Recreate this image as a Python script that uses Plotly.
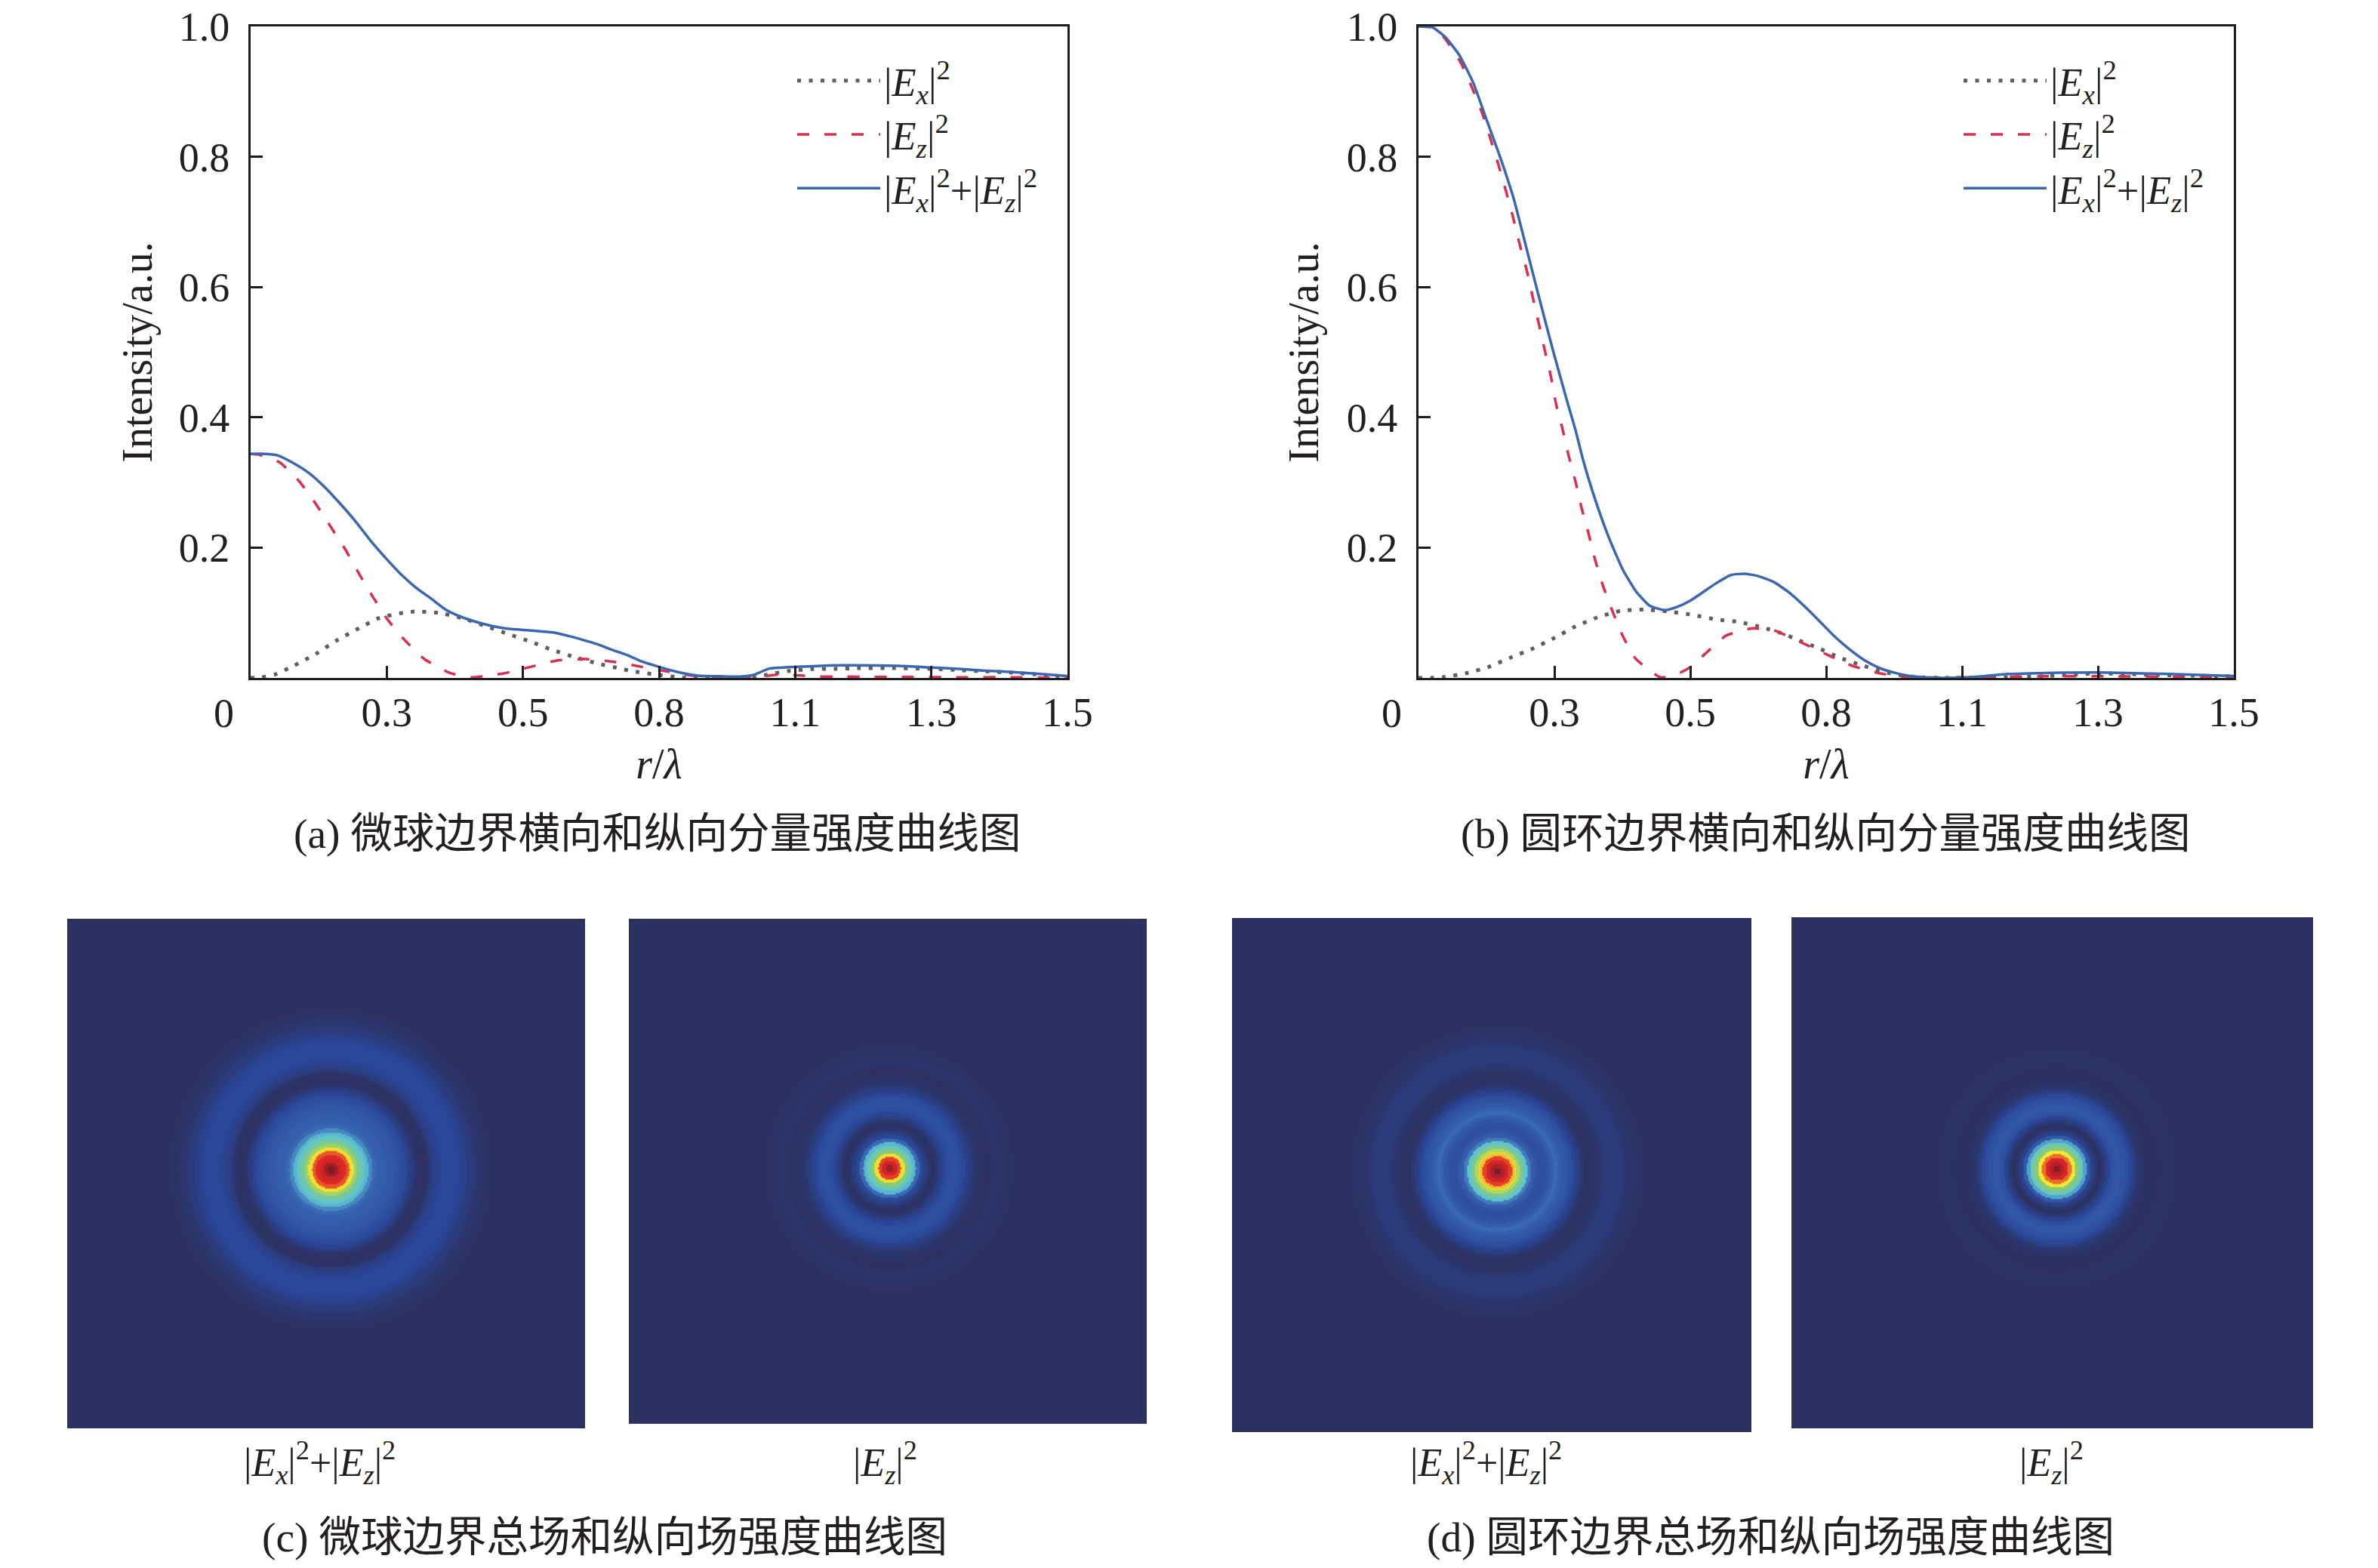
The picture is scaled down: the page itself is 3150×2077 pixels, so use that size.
import numpy as np
import plotly.graph_objects as go

W = 3150
H = 2077
SERIF = "Liberation Serif, Noto Sans CJK SC"

# panel (a) curves
ax_total_x = [0, .025, .048, .078, .108, .136, .164, .192, .219, .247, .275, .303, .331, .358, .386, .414, .442, .469, .497, .525, .553, .581, .608, .636, .664, .692, .719, .75, .785, .821, .8625, .9, .925, .951, 1.002, 1.0625, 1.108, 1.19, 1.25, 1.3, 1.35, 1.4, 1.45, 1.5]
ax_total_y = [.344, .344, .342, .33, .314, .293, .268, .241, .212, .185, .16, .139, .122, .105, .094, .086, .08, .076, .074, .072, .07, .065, .059, .052, .043, .035, .025, .017, .009, .0035, .0025, .002, .005, .014, .017, .019, .0195, .0185, .016, .014, .011, .009, .006, .003]
ax_ez_x = [0, .014, .053, .09, .119, .147, .174, .199, .224, .251, .282, .319, .365, .404, .465, .514, .564, .615, .664, .715, .764, .8125, .87, .93, .965, 1.015, 1.04, 1.087, 1.136, 1.19, 1.3, 1.4, 1.5]
ax_ez_y = [.344, .343, .331, .301, .268, .232, .197, .16, .125, .09, .059, .029, .008, .001, .007, .017, .027, .029, .025, .0175, .01, .0035, .001, .001, .005, .0035, .002, .002, .0015, .0015, .001, .001, 0]
ax_ex_x = [0, .02, .044, .08, .12, .157, .196, .236, .28, .301, .345, .388, .43, .471, .513, .554, .595, .638, .681, .703, .746, .794, .85, .898, .949, .986, 1.029, 1.073, 1.117, 1.183, 1.25, 1.3, 1.35, 1.4, 1.45, 1.5]
ax_ex_y = [0, .001, .005, .019, .037, .057, .075, .092, .1, .102, .1, .092, .08, .068, .056, .043, .032, .022, .014, .01, .005, .0005, 0, .0005, .005, .0105, .0135, .014, .015, .015, .014, .012, .01, .008, .005, .002]

# panel (b) curves
bx_total_x = [0, .025, .05, .075, .101, .126, .15, .175, .2, .224, .247, .272, .289, .303, .321, .349, .376, .4, .425, .453, .476, .501, .547, .575, .601, .626, .654, .682, .71, .738, .765, .793, .821, .849, .876, .904, .932, .96, 1.001, 1.043, 1.085, 1.126, 1.182, 1.25, 1.38, 1.5]
bx_total_y = [1.0, .999, .983, .956, .913, .855, .8, .736, .655, .577, .504, .429, .38, .334, .284, .218, .166, .133, .111, .104, .109, .119, .145, .158, .16, .156, .147, .131, .11, .087, .064, .044, .027, .015, .008, .003, .001, 0, .0005, .003, .006, .007, .008, .0085, .006, .003]
bx_ez_x = [0, .025, .047, .078, .099, .117, .133, .147, .161, .174, .186, .199, .21, .221, .232, .243, .254, .265, .276, .289, .3, .313, .325, .34, .357, .376, .4, .442, .453, .481, .501, .526, .566, .613, .654, .672, .708, .754, .8, .849, .9, 1.026, 1.145, 1.263, 1.38, 1.5]
bx_ez_y = [1.0, .998, .983, .944, .905, .867, .826, .788, .747, .707, .666, .626, .585, .545, .504, .465, .417, .382, .342, .301, .261, .221, .181, .14, .102, .064, .029, .002, .001, .008, .017, .036, .065, .076, .073, .067, .053, .035, .018, .007, .001, .001, .0025, .0025, .002, .001]
bx_ex_x = [0, .022, .044, .087, .129, .169, .21, .249, .289, .329, .372, .415, .458, .503, .546, .589, .631, .674, .693, .735, .775, .817, .858, .88, .92, 1.0, 1.085, 1.16, 1.25, 1.38, 1.5]
bx_ex_y = [0, 0, .001, .007, .017, .031, .045, .061, .079, .093, .103, .105, .102, .097, .09, .086, .078, .067, .06, .046, .031, .019, .009, .005, .001, 0, .001, .003, .007, .004, .0025]

x_ticks = [0, .25, .5, .75, 1.0, 1.25, 1.5]
x_labels = ["", "0.3", "0.5", "0.8", "1.1", "1.3", "1.5"]
y_ticks = [.2, .4, .6, .8, 1.0]
y_labels = ["0.2", "0.4", "0.6", "0.8", "1.0"]

# radial intensity, one value per radius
radii = [0, 5, 10, 15, 20, 25, 30, 35, 40, 45, 50, 55, 60, 65, 70, 75, 80, 85, 90, 95, 100, 105, 110, 115, 120, 125, 130, 135, 140, 145, 150, 155, 160, 165, 170, 175, 180, 185, 190, 195, 200, 205, 210, 215, 220]
c_total = [1, .97, .93, .86, .82, .76, .63, .53, .46, .4, .36, .29, .22, .2, .19, .18, .17, .16, .14, .12, .1, .07, .04, .015, .004, .002, .012, .04, .06, .075, .085, .09, .09, .088, .085, .075, .06, .045, .035, .025, .018, .012, .007, .003, 0]
c_ez = [1, .94, .87, .78, .63, .5, .42, .36, .22, .09, .05, .02, .004, .02, .05, .08, .11, .125, .13, .115, .09, .06, .04, .02, .012, .006, .002, .005, .01, .014, .012, .01, .006, .004, .002, .001, 0, 0, 0, 0, 0, 0, 0, 0, 0]
d_total = [1, .97, .92, .86, .78, .66, .55, .47, .39, .26, .18, .14, .12, .13, .15, .19, .22, .2, .17, .15, .12, .08, .05, .025, .008, .003, .006, .012, .022, .032, .04, .042, .04, .035, .028, .02, .015, .01, .006, .004, .002, .001, .001, 0, 0]
d_ez = [1, .96, .91, .84, .74, .62, .5, .43, .33, .16, .06, .02, .003, .03, .07, .12, .15, .16, .145, .125, .09, .05, .025, .012, .005, .002, .001, .002, .004, .006, .007, .006, .004, .003, .002, .001, 0, 0, 0, 0, 0, 0, 0, 0, 0]

field_scale = [
    [0, "#2b3160"], [.08, "#2a4596"], [.2, "#3560ad"], [.3, "#4a8cc4"], [.38, "#5cc5d2"],
    [.5, "#86ca7c"], [.62, "#f3ea2c"], [.7, "#f39a2e"], [.8, "#e02b26"], [.9, "#c5202a"], [1, "#5a1a1e"],
]


def dx(a, b):
    return [a / W, b / W]


def dy(top, bottom):
    return [1 - bottom / H, 1 - top / H]


def ex_label():
    return "|<i>E<sub>x</sub></i>|<sup>2</sup>"


def ez_label():
    return "|<i>E<sub>z</sub></i>|<sup>2</sup>"


def total_label():
    return ex_label() + "+" + ez_label()


fig = go.Figure()


def add_curves(xa, ya, legend, ex, ez, total):
    common = dict(mode="lines", xaxis=xa, yaxis=ya, legend=legend, hoverinfo="skip")
    fig.add_trace(go.Scatter(x=ex[0], y=ex[1], name=ex_label(), legendgroup=legend + "ex",
                             line=dict(color="#5f5f5f", width=5, dash="5px,10.5px", shape="spline", smoothing=.5), **common))
    fig.add_trace(go.Scatter(x=ez[0], y=ez[1], name=ez_label(), legendgroup=legend + "ez",
                             line=dict(color="#d9304f", width=3.5, dash="16px,20px", shape="spline", smoothing=.5), **common))
    fig.add_trace(go.Scatter(x=total[0], y=total[1], name=total_label(), legendgroup=legend + "tot",
                             line=dict(color="#3b66b0", width=3.5, shape="spline", smoothing=.5), **common))


add_curves("x", "y", "legend", (ax_ex_x, ax_ex_y), (ax_ez_x, ax_ez_y), (ax_total_x, ax_total_y))
add_curves("x2", "y2", "legend2", (bx_ex_x, bx_ex_y), (bx_ez_x, bx_ez_y), (bx_total_x, bx_total_y))


def add_field(n, box, center, values):
    # box is left, right, top, bottom of the image, center the peak position
    left, right, top, bottom = box
    cx, cy = center
    xs = np.arange(left - cx, right - cx + 2, 2)
    ys = np.arange(top - cy, bottom - cy + 2, 2)
    rr = np.hypot(*np.meshgrid(xs, ys))
    nearest = np.clip(np.searchsorted(radii, rr), 0, len(values) - 1)
    z = np.array(values)[nearest]
    fig.add_trace(go.Heatmap(x=xs, y=ys, z=z, zmin=0, zmax=1, colorscale=field_scale, zsmooth="best",
                             showscale=False, hoverinfo="skip", xaxis=f"x{n}", yaxis=f"y{n}"))
    hidden = dict(visible=False, fixedrange=True, automargin=False)
    fig.layout[f"xaxis{n}"] = dict(domain=dx(left, right), range=[left - cx, right - cx], anchor=f"y{n}", **hidden)
    fig.layout[f"yaxis{n}"] = dict(domain=dy(top, bottom), range=[bottom - cy, top - cy], anchor=f"x{n}", **hidden)


add_field(3, (89, 775, 1217, 1892), (438, 1549), c_total)
add_field(4, (833, 1519, 1217, 1886), (1178, 1547), c_ez)
add_field(5, (1632, 2320, 1216, 1897), (1983, 1551), d_total)
add_field(6, (2373, 3064, 1215, 1892), (2724, 1548), d_ez)


def curve_axes(domain_x, anchor_x, anchor_y):
    line = dict(showline=True, linecolor="#1f1c1d", linewidth=3, mirror=True, showgrid=False, zeroline=False, automargin=False,
                ticks="inside", ticklen=16, tickwidth=3, tickcolor="#1f1c1d", tickfont=dict(family=SERIF, size=54, color="#231f20"))
    xaxis = dict(domain=domain_x, range=[0, 1.5], anchor=anchor_y, tickmode="array", tickvals=x_ticks, ticktext=x_labels,
                 ticklabelstandoff=-4, **line)
    yaxis = dict(domain=dy(35, 898), range=[0, 1], anchor=anchor_x, tickmode="array", tickvals=y_ticks, ticktext=y_labels,
                 ticklabelstandoff=14, **line)
    return xaxis, yaxis


xa1, ya1 = curve_axes(dx(332, 1414), "x", "y")
xa2, ya2 = curve_axes(dx(1879, 2959), "x2", "y2")
title_font = dict(family=SERIF, size=56, color="#231f20")
# trailing no-break space nudges the label left, as in the original
xa1["title"] = dict(text="<i>r</i>/<i>λ</i>\u00a0", font=title_font, standoff=20)
xa2["title"] = dict(text="<i>r</i>/<i>λ</i>\u00a0", font=title_font, standoff=20)
ya1["title"] = dict(text="Intensity/a.u.", font=title_font, standoff=18)
ya2["title"] = dict(text="Intensity/a.u.", font=title_font, standoff=20)


def text_at(x, y, text, size):
    return dict(x=x / W, y=1 - y / H, xref="paper", yref="paper", text=text, showarrow=False,
                xanchor="center", yanchor="middle", font=dict(family=SERIF, size=size, color="#231f20"))


notes = [
    text_at(296, 945, "0", 54),
    text_at(1843, 945, "0", 54),
    text_at(871, 1104, "(a) 微球边界横向和纵向分量强度曲线图", 55.5),
    text_at(2418, 1104, "(b) 圆环边界横向和纵向分量强度曲线图", 55.5),
    text_at(423, 1937, total_label(), 52),
    text_at(1172, 1937, ez_label(), 52),
    text_at(1968, 1937, total_label(), 52),
    text_at(2717, 1937, ez_label(), 52),
    text_at(801, 2036, "(c) 微球边界总场和纵向场强度曲线图", 55.5),
    text_at(2345, 2036, "(d) 圆环边界总场和纵向场强度曲线图", 55.5),
]

legend_style = dict(xanchor="left", yanchor="top", bgcolor="rgba(0,0,0,0)", itemwidth=110, itemclick=False,
                    font=dict(family=SERIF, size=52.5, color="#231f20"), tracegroupgap=0)

fig.update_layout(
    width=W,
    height=H,
    autosize=False,
    margin=dict(l=0, r=0, t=0, b=0),
    paper_bgcolor="white",
    plot_bgcolor="white",
    showlegend=True,
    xaxis=xa1,
    yaxis=ya1,
    xaxis2=xa2,
    yaxis2=ya2,
    annotations=notes,
    legend=dict(x=1051 / W, y=1 - 66 / H, **legend_style),
    legend2=dict(x=2596 / W, y=1 - 66 / H, **legend_style),
)

fig.write_html("out.html", config={"displayModeBar": False}, post_script="document.body.style.margin='0';")
